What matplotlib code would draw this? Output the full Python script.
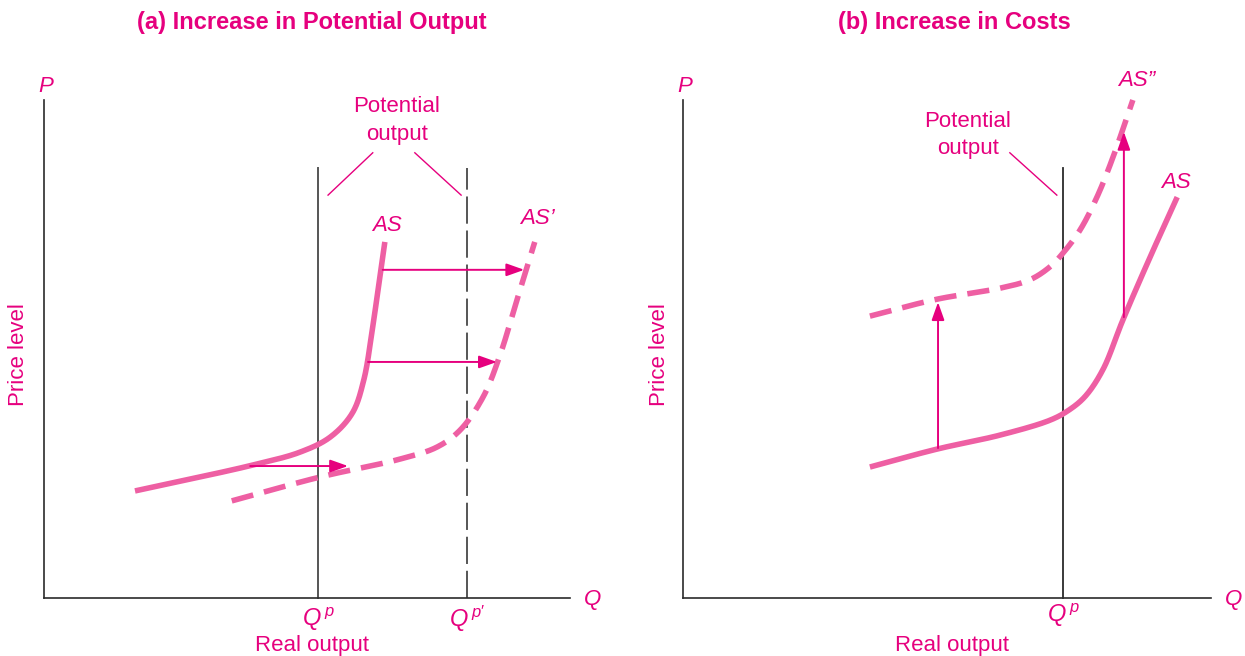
import numpy as np
import matplotlib
matplotlib.use("Agg")
import matplotlib.pyplot as plt
from matplotlib import font_manager

# ---------------- data ----------------
# Panel (a)
as_a_q = [17.3, 39.7, 48.7, 54.4, 58.6, 60.8, 62.4, 63.5, 64.8]
as_a_p = [21.5, 26.7, 29.3, 32.3, 37.1, 43.8, 53.8, 61.8, 71.5]
as2_a_q = [35.7, 52.5, 67.7, 74.7, 79.1, 83.5, 86.7, 89.9, 93.3]
as2_a_p = [19.5, 24.3, 27.9, 30.3, 33.7, 40.4, 48.8, 59.8, 71.5]
qp_a = 52.1
qp2_a = 80.4
arrows_a_p = [65.9, 47.4, 26.5]
arrows_a_from = [64.4, 61.6, 39.2]
arrows_a_to = [91.3, 86.1, 57.8]

# Panel (b)
as_b_q = [35.4, 48.1, 60.0, 69.5, 72.9, 76.1, 79.5, 83.3, 88.4, 93.6]
as_b_p = [26.3, 29.9, 32.7, 35.7, 37.6, 40.4, 45.8, 55.8, 68.3, 80.5]
as2_b_q = [35.4, 48.1, 60.0, 65.7, 69.5, 72.0, 75.2, 78.4, 81.4, 85.2]
as2_b_p = [56.6, 60.0, 62.2, 63.9, 66.5, 69.3, 73.9, 80.5, 88.4, 100.0]
qp_b = 72.0
arrows_b_q = [48.3, 83.5]
arrows_b_from = [30.1, 56.4]
arrows_b_to = [59.4, 93.6]

titles = ["(a) Increase in Potential Output", "(b) Increase in Costs"]

# ---------------- style ----------------
TXT = "#E6007E"
CURVE = "#EE5FA3"
AXC = "#2b2b2b"
VLC = "#555555"
FS = 16

names = {f.name for f in font_manager.fontManager.ttflist}
SANS = "Liberation Sans" if "Liberation Sans" in names else "DejaVu Sans"
NARROW = "Liberation Sans Narrow" if "Liberation Sans Narrow" in names else SANS
plt.rcParams["font.family"] = [SANS, "DejaVu Sans"]
plt.rcParams["mathtext.fontset"] = "custom"
plt.rcParams["mathtext.rm"] = SANS
plt.rcParams["mathtext.it"] = SANS + ":italic"


def smooth(xs, ys, n=40, alpha=0.5):
    """Centripetal Catmull-Rom through the read points (display aspect ~1)."""
    pts = np.column_stack([xs, ys]).astype(float)
    P = np.vstack([2 * pts[0] - pts[1], pts, 2 * pts[-1] - pts[-2]])
    out = []
    for i in range(1, len(P) - 2):
        p0, p1, p2, p3 = P[i - 1], P[i], P[i + 1], P[i + 2]
        t0 = 0.0
        t1 = t0 + np.linalg.norm(p1 - p0) ** alpha
        t2 = t1 + np.linalg.norm(p2 - p1) ** alpha
        t3 = t2 + np.linalg.norm(p3 - p2) ** alpha
        t = np.linspace(t1, t2, n, endpoint=False)[:, None]
        a1 = (t1 - t) / (t1 - t0) * p0 + (t - t0) / (t1 - t0) * p1
        a2 = (t2 - t) / (t2 - t1) * p1 + (t - t1) / (t2 - t1) * p2
        a3 = (t3 - t) / (t3 - t2) * p2 + (t - t2) / (t3 - t2) * p3
        b1 = (t2 - t) / (t2 - t0) * a1 + (t - t0) / (t2 - t0) * a2
        b2 = (t3 - t) / (t3 - t1) * a2 + (t - t1) / (t3 - t1) * a3
        c = (t2 - t) / (t2 - t1) * b1 + (t - t1) / (t2 - t1) * b2
        out.append(c)
    out.append(pts[-1][None, :])
    out = np.vstack(out)
    return out[:, 0], out[:, 1]


def arrow(ax, start, end):
    ax.annotate("", xy=end, xytext=start,
                arrowprops=dict(arrowstyle="-|>,head_length=0.9,head_width=0.32",
                                color=TXT, lw=1.4, shrinkA=0, shrinkB=0,
                                mutation_scale=12),
                annotation_clip=False)


fig = plt.figure(figsize=(12.45, 6.56), dpi=100)
bottom = (656 - 598) / 656
height = 498 / 656
axA = fig.add_axes([44 / 1245, bottom, 526 / 1245, height])
axB = fig.add_axes([683 / 1245, bottom, 528 / 1245, height])

for ax in (axA, axB):
    ax.set_xlim(0, 100)
    ax.set_ylim(0, 100)
    for s in ("top", "right"):
        ax.spines[s].set_visible(False)
    for s in ("left", "bottom"):
        ax.spines[s].set_color(AXC)
        ax.spines[s].set_linewidth(1.2)
    ax.set_xticks([])
    ax.set_yticks([])
    ax.patch.set_alpha(0)
    ax.text(0.4, 102.8, "P", style="italic", color=TXT, fontsize=FS,
            ha="center", va="center", clip_on=False)
    ax.text(104.2, -0.4, "Q", style="italic", color=TXT, fontsize=FS,
            ha="center", va="center", clip_on=False)
    ax.text(50.9, -9.6, "Real output", color=TXT, fontsize=FS,
            ha="center", va="center", clip_on=False)

axA.text(-4.9, 48.8, "Price level", color=TXT, fontsize=FS, rotation=90,
         ha="center", va="center", clip_on=False)
axB.text(-4.4, 48.8, "Price level", color=TXT, fontsize=FS, rotation=90,
         ha="center", va="center", clip_on=False)

# ---- panel (a)
axA.plot([qp_a, qp_a], [0, 86.3], color=VLC, lw=1.4, clip_on=False)
axA.plot([qp2_a, qp2_a], [0, 86.3], color=VLC, lw=1.4, clip_on=False,
         linestyle=(0, (14, 3.5)))
x, y = smooth(as_a_q, as_a_p)
axA.plot(x, y, color=CURVE, lw=4.0, solid_capstyle="butt", clip_on=False)
x, y = smooth(as2_a_q, as2_a_p)
axA.plot(x, y, color=CURVE, lw=4.0, linestyle=(0, (4.0, 2.0)),
         dash_capstyle="butt", clip_on=False)
for p, a, b in zip(arrows_a_p, arrows_a_from, arrows_a_to):
    arrow(axA, (a, p), (b, p))
axA.plot([54.0, 62.5], [80.9, 89.4], color=TXT, lw=1.0, clip_on=False)
axA.plot([70.5, 79.3], [89.4, 80.9], color=TXT, lw=1.0, clip_on=False)
axA.text(67.1, 98.6, "Potential", color=TXT, fontsize=FS, ha="center",
         va="center", clip_on=False)
axA.text(67.1, 93.0, "output", color=TXT, fontsize=FS, ha="center",
         va="center", clip_on=False)
axA.text(65.2, 74.7, "AS", style="italic", color=TXT, fontsize=FS,
         ha="center", va="center", clip_on=False)
axA.text(93.8, 76.3, "AS\u2019", style="italic", color=TXT, fontsize=FS,
         ha="center", va="center", clip_on=False)
axA.text(qp_a, -4.2, r"$\mathit{Q}^{\,\mathit{p}}$", color=TXT, fontsize=17,
         ha="center", va="center", clip_on=False)
axA.text(qp2_a, -4.2, r"$\mathit{Q}^{\,\mathit{p}\prime}$", color=TXT, fontsize=17,
         ha="center", va="center", clip_on=False)

# ---- panel (b)
axB.plot([qp_b, qp_b], [0, 86.3], color=AXC, lw=1.3, clip_on=False)
x, y = smooth(as_b_q, as_b_p)
axB.plot(x, y, color=CURVE, lw=4.0, solid_capstyle="butt", clip_on=False)
x, y = smooth(as2_b_q, as2_b_p)
axB.plot(x, y, color=CURVE, lw=4.0, linestyle=(0, (4.0, 2.0)),
         dash_capstyle="butt", clip_on=False)
for q, a, b in zip(arrows_b_q, arrows_b_from, arrows_b_to):
    arrow(axB, (q, a), (q, b))
axB.plot([61.9, 70.8], [89.4, 80.9], color=TXT, lw=1.0, clip_on=False)
axB.text(53.8, 95.6, "Potential", color=TXT, fontsize=FS, ha="center",
         va="center", clip_on=False)
axB.text(54.0, 90.2, "output", color=TXT, fontsize=FS, ha="center",
         va="center", clip_on=False)
axB.text(86.0, 104.0, "AS\u201d", style="italic", color=TXT, fontsize=FS,
         ha="center", va="center", clip_on=False)
axB.text(93.4, 83.5, "AS", style="italic", color=TXT, fontsize=FS,
         ha="center", va="center", clip_on=False)
axB.text(qp_b, -3.4, r"$\mathit{Q}^{\,\mathit{p}}$", color=TXT, fontsize=17,
         ha="center", va="center", clip_on=False)

# titles
fig.text(312 / 1245, 1 - 22 / 656, titles[0], color=TXT, fontsize=17,
         fontweight="bold", family=[NARROW, "DejaVu Sans"], ha="center", va="center")
fig.text(954 / 1245, 1 - 22 / 656, titles[1], color=TXT, fontsize=17,
         fontweight="bold", family=[NARROW, "DejaVu Sans"], ha="center", va="center")

fig.savefig("out.png", dpi=100)
